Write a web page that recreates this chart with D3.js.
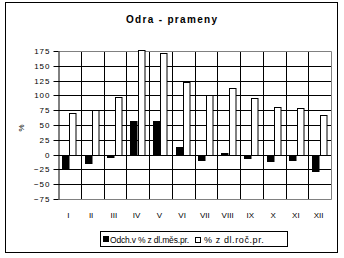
<!DOCTYPE html>
<html>
<head>
<meta charset="utf-8">
<script src="https://cdn.jsdelivr.net/npm/d3@7"></script>
<style>
  body { margin: 0; background: #fff; }
  svg { display: block; font-family: "Liberation Sans", Arial, sans-serif; }
</style>
</head>
<body>
<svg id="chart" width="344" height="258"></svg>
<script>
const months = ["I", "II", "III", "IV", "V", "VI", "VII", "VIII", "IX", "X", "XI", "XII"];
const odchMes = [-23, -14, -4, 57, 57, 12, -9, 2, -6, -11, -9, -28];
const procRoc = [71, 75, 97, 177, 172, 123, 101, 112, 96, 81, 78, 67];
const yTicks = [-75, -50, -25, 0, 25, 50, 75, 100, 125, 150, 175];
const seriesNames = ["Odch.v % z dl.měs.pr.", "% z dl.roč.pr."];

const svg = d3.select("#chart");
const m = { left: 58, right: 331, top: 51, bottom: 199 };

// outer frame
svg.append("rect").attr("x", 5.5).attr("y", 2.5).attr("width", 332).attr("height", 250)
  .attr("fill", "#fff").attr("stroke", "#000").attr("stroke-width", 1);

svg.append("text").attr("x", 126).attr("y", 23)
  .attr("font-size", 10).attr("font-weight", "bold")
  .attr("textLength", 91).attr("lengthAdjust", "spacing").text("Odra - prameny");

const x = d3.scaleBand().domain(months).range([m.left, m.right]);
const y = d3.scaleLinear().domain([-75, 175]).range([m.bottom, m.top]);
const sub = d3.scaleBand().domain([0, 1]).range([0, 15]);
const ry = v => Math.round(y(v)) + 0.5;
const rx = v => Math.round(v) + 0.5;

// horizontal gridlines
svg.append("g").selectAll("line").data(yTicks.slice(1, -1)).join("line")
  .attr("x1", m.left).attr("x2", m.right)
  .attr("y1", d => ry(d)).attr("y2", d => ry(d))
  .attr("stroke", "#000").attr("stroke-width", 1);

// vertical gridlines at category boundaries
svg.append("g").selectAll("line").data(months.slice(1)).join("line")
  .attr("x1", d => rx(x(d))).attr("x2", d => rx(x(d)))
  .attr("y1", ry(175)).attr("y2", ry(-75))
  .attr("stroke", "#000").attr("stroke-width", 1);

// gray plot border: top, right, bottom
svg.append("path")
  .attr("d", `M${rx(m.left)},${ry(175)}H${rx(m.right)}V${ry(-75)}H${rx(m.left)}`)
  .attr("fill", "none").attr("stroke", "#808080").attr("stroke-width", 1);

const off = (x.bandwidth() - 15) / 2;
const bars = svg.append("g");
bars.selectAll(".b").data(odchMes).join("rect").attr("class", "b")
  .attr("x", (d, i) => rx(x(months[i]) + off + sub(0)))
  .attr("y", d => ry(Math.max(0, d)))
  .attr("width", sub.bandwidth() - 1)
  .attr("height", d => Math.max(1, Math.abs(ry(d) - ry(0))))
  .attr("fill", "#000").attr("stroke", "#000").attr("stroke-width", 1);
bars.selectAll(".w").data(procRoc).join("rect").attr("class", "w")
  .attr("x", (d, i) => rx(x(months[i]) + off + sub(1)))
  .attr("y", d => ry(d))
  .attr("width", sub.bandwidth() - 1)
  .attr("height", d => ry(0) - ry(d))
  .attr("fill", "#fff").attr("stroke", "#000").attr("stroke-width", 1);

// y axis with outside ticks
const yAxis = d3.axisLeft(y).tickValues(yTicks).tickSize(5).tickPadding(3).tickSizeOuter(0);
const ga = svg.append("g").attr("transform", `translate(${rx(m.left)},0)`).call(yAxis);
ga.select(".domain").attr("stroke", "#000");
ga.selectAll(".tick").attr("transform", d => `translate(0,${ry(d)})`);
ga.selectAll(".tick line").attr("stroke", "#000");
ga.selectAll(".tick text").attr("font-size", 8).attr("letter-spacing", 1)
  .attr("font-family", "Liberation Sans, Arial, sans-serif").attr("fill", "#000");

svg.append("text").attr("transform", "translate(24,128) rotate(-90)")
  .attr("text-anchor", "middle").attr("font-size", 8).text("%");

// x labels
svg.append("g").selectAll("text").data(months).join("text")
  .attr("x", d => x(d) + x.bandwidth() / 2 - 1).attr("y", 218)
  .attr("text-anchor", "middle").attr("font-size", 8).text(d => d);

// legend
const lg = svg.append("g");
lg.append("rect").attr("x", 100.5).attr("y", 231.5).attr("width", 187).attr("height", 15)
  .attr("fill", "#fff").attr("stroke", "#000").attr("stroke-width", 1);
lg.append("rect").attr("x", 103).attr("y", 236).attr("width", 6).attr("height", 6).attr("fill", "#000");
lg.append("text").attr("x", 110).attr("y", 242.5).attr("font-size", 8.5)
  .attr("textLength", 79).attr("lengthAdjust", "spacing").text(seriesNames[0]);
lg.append("rect").attr("x", 195.5).attr("y", 237.5).attr("width", 5).attr("height", 5)
  .attr("fill", "#fff").attr("stroke", "#000").attr("stroke-width", 1);
lg.append("text").attr("x", 204).attr("y", 242.5).attr("font-size", 9).attr("letter-spacing", 0.6)
  .text(seriesNames[1]);
</script>
</body>
</html>
